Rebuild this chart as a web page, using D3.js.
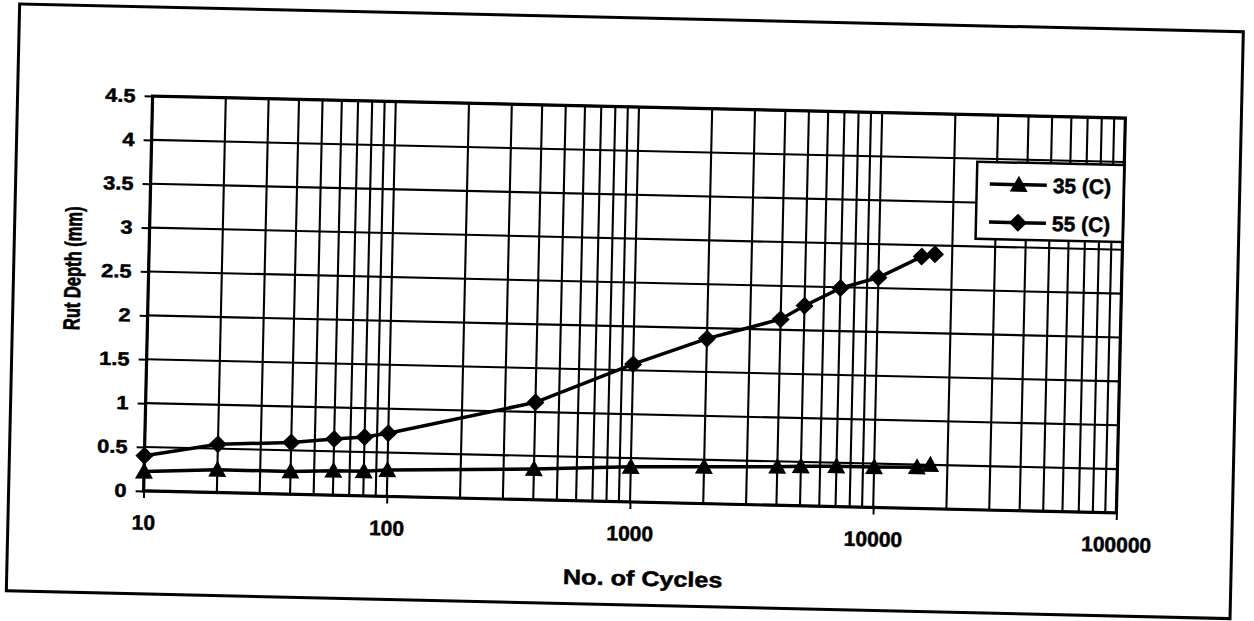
<!DOCTYPE html>
<html>
<head>
<meta charset="utf-8">
<script src="https://cdn.jsdelivr.net/npm/d3@7"></script>
<style>
  html, body { margin: 0; padding: 0; background: #fff; }
  svg { display: block; }
  text { font-family: "Liberation Sans", Arial, sans-serif; font-weight: bold; fill: #000; stroke: #000; stroke-width: 0.5px; }
</style>
</head>
<body>
<script>
// data
const cycles = [10, 20, 40, 60, 80, 100, 400, 1000, 2000, 4000, 5000, 7000, 10000, 15000, 17000];
const rut35 = [0.22, 0.26, 0.26, 0.28, 0.28, 0.30, 0.35, 0.40, 0.42, 0.44, 0.45, 0.46, 0.46, 0.47, 0.50];
const rut55 = [0.40, 0.55, 0.59, 0.64, 0.67, 0.72, 1.11, 1.57, 1.88, 2.12, 2.28, 2.49, 2.62, 2.87, 2.90];
const seriesNames = ['35 (C)', '55 (C)'];
const yTicks = [0, 0.5, 1, 1.5, 2, 2.5, 3, 3.5, 4, 4.5];
const yTickLabels = ['0', '0.5', '1', '1.5', '2', '2.5', '3', '3.5', '4', '4.5'];
const xTicks = [10, 100, 1000, 10000, 100000];
const xTickLabels = ['10', '100', '1000', '10000', '100000'];

const width = 1254;
const height = 621;

const svg = d3.select('body')
  .append('svg')
  .attr('width', width)
  .attr('height', height);

svg.append('rect').attr('width', width).attr('height', height).attr('fill', '#fff');

// the scan is a little skewed, so everything sits in a rotated group
const root = svg.append('g').attr('transform', 'rotate(1.3,634.5,304)');

// outer chart border
root.append('rect')
  .attr('x', 13).attr('y', 18)
  .attr('width', 1224).attr('height', 587)
  .attr('fill', 'none')
  .attr('stroke', '#000')
  .attr('stroke-width', 3);

const plot = { left: 148, right: 1121, top: 107, bottom: 502 };

const x = d3.scaleLog().domain([10, 100000]).range([plot.left, plot.right]);
const y = d3.scaleLinear().domain([0, 4.5]).range([plot.bottom, plot.top]);

// gridlines
const grid = root.append('g').attr('stroke', '#000').attr('stroke-width', 2.1);
grid.selectAll('line.v')
  .data(x.ticks())
  .join('line')
  .attr('class', 'v')
  .attr('x1', (d) => x(d)).attr('x2', (d) => x(d))
  .attr('y1', plot.top).attr('y2', plot.bottom);
grid.selectAll('line.h')
  .data(yTicks)
  .join('line')
  .attr('class', 'h')
  .attr('x1', plot.left).attr('x2', plot.right)
  .attr('y1', (d) => y(d)).attr('y2', (d) => y(d));

// y axis
const yAxis = root.append('g')
  .attr('transform', `translate(${plot.left},0)`)
  .call(d3.axisLeft(y)
    .tickValues(yTicks)
    .tickFormat((d, i) => yTickLabels[i])
    .tickSize(8)
    .tickPadding(9));
yAxis.attr('font-size', 19);
yAxis.select('.domain').remove();
yAxis.selectAll('line').attr('stroke', '#000').attr('stroke-width', 2);
yAxis.selectAll('text')
  .attr('x', -17 / 1.15)
  .attr('transform', 'scale(1.15,1)');

// x axis
const xAxis = root.append('g')
  .attr('transform', `translate(0,${plot.bottom})`)
  .call(d3.axisBottom(x)
    .tickValues(xTicks)
    .tickFormat((d, i) => xTickLabels[i])
    .tickSize(7)
    .tickPadding(17));
xAxis.attr('font-size', 21);
xAxis.select('.domain').remove();
xAxis.selectAll('line').attr('stroke', '#000').attr('stroke-width', 2);

// plot area border
root.append('rect')
  .attr('x', plot.left).attr('y', plot.top)
  .attr('width', plot.right - plot.left)
  .attr('height', plot.bottom - plot.top)
  .attr('fill', 'none')
  .attr('stroke', '#000')
  .attr('stroke-width', 3.2);

// axis titles
root.append('text')
  .attr('transform', 'translate(649,585.5) scale(1.2,1)')
  .attr('text-anchor', 'middle')
  .attr('font-size', 21)
  .text('No. of Cycles');

root.append('text')
  .attr('transform', 'translate(72,281) scale(1.4,1) rotate(-90)')
  .attr('text-anchor', 'middle')
  .attr('dy', '0.35em')
  .attr('font-size', 16.5)
  .text('Rut Depth (mm)');

// series
const triangle = 'M0,-9L9,7L-9,7Z';
const diamond = 'M0,-9L9,0L0,9L-9,0Z';
const series = [
  { name: seriesNames[0], values: d3.zip(cycles, rut35), marker: triangle },
  { name: seriesNames[1], values: d3.zip(cycles, rut55), marker: diamond }
];

const line = d3.line()
  .x((d) => x(d[0]))
  .y((d) => y(d[1]));

series.forEach((s) => {
  root.append('path')
    .attr('d', line(s.values))
    .attr('fill', 'none')
    .attr('stroke', '#000')
    .attr('stroke-width', 3.5);
  root.append('g')
    .selectAll('path')
    .data(s.values)
    .join('path')
    .attr('d', s.marker)
    .attr('transform', (d) => `translate(${x(d[0])},${y(d[1])})`)
    .attr('fill', '#000');
});

// legend
const legend = root.append('g').attr('transform', 'translate(974,154)');
legend.append('rect')
  .attr('width', 147).attr('height', 77)
  .attr('fill', '#fff')
  .attr('stroke', '#000')
  .attr('stroke-width', 2.5);

const item = legend.selectAll('g.item')
  .data(series)
  .join('g')
  .attr('class', 'item')
  .attr('transform', (d, i) => `translate(0,${22 + i * 38})`);
item.append('line')
  .attr('x1', 13).attr('x2', 70)
  .attr('stroke', '#000')
  .attr('stroke-width', 3.5);
item.append('path')
  .attr('d', (d) => d.marker)
  .attr('transform', 'translate(42,0)')
  .attr('fill', '#000');
item.append('text')
  .attr('x', 76)
  .attr('y', 7.5)
  .attr('font-size', 21)
  .text((d) => d.name);
</script>
</body>
</html>
